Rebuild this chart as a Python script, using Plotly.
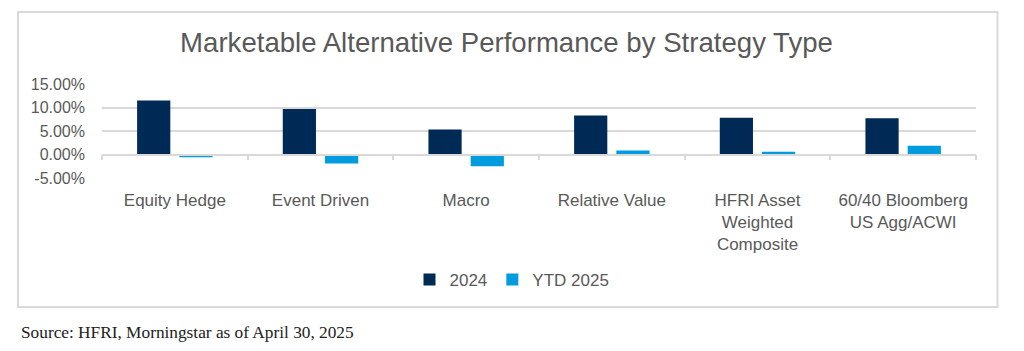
import plotly.graph_objects as go

categories = ["Equity Hedge", "Event Driven", "Macro", "Relative Value",
              "HFRI Asset<br>Weighted<br>Composite", "60/40 Bloomberg<br>US Agg/ACWI"]
series_names = ["2024", "YTD 2025"]
values_2024 = [11.5, 9.7, 5.3, 8.3, 7.8, 7.7]
values_ytd2025 = [-0.6, -1.9, -2.5, 0.85, 0.6, 1.85]
y_tick_vals = [-5, 0, 5, 10, 15]
y_tick_text = ["-5.00%", "0.00%", "5.00%", "10.00%", "15.00%"]

W, H = 1024, 351
L, R, T, B = 102, 48, 84, 173
pw, ph = W - L - R, H - T - B

def px_x(x):
    return (x - L) / pw

def px_y(y):
    return (H - B - y) / ph

NAVY = "#002A56"
BLUE = "#009CDE"
GRAY_TXT = "#595959"
GRID = "#D9D9D9"
FONT = "Liberation Sans, Arial, sans-serif"

fig = go.Figure()
fig.add_trace(go.Bar(x=categories, y=values_2024, name=series_names[0],
                     marker=dict(color=NAVY, line=dict(width=0))))
fig.add_trace(go.Bar(x=categories, y=values_ytd2025, name=series_names[1],
                     marker=dict(color=BLUE, line=dict(width=0))))
fig.add_trace(go.Scatter(x=categories, y=[None] * len(categories), xaxis="x2",
                         showlegend=False, hoverinfo="skip", mode="lines"))

fig.update_layout(
    width=W, height=H,
    margin=dict(l=L, r=R, t=T, b=B, pad=0),
    paper_bgcolor="white", plot_bgcolor="white",
    font=dict(family=FONT, color=GRAY_TXT, size=16),
    barmode="group", bargap=0.42, bargroupgap=0.214,
    title=dict(text="Marketable Alternative Performance by Strategy Type",
               font=dict(size=27.6, color=GRAY_TXT, family=FONT),
               x=506.5 / W, xanchor="center", xref="container",
               y=1 - 42.5 / H, yanchor="middle", yref="container"),
    xaxis=dict(type="category", categoryorder="array", categoryarray=categories,
               range=[-0.5, len(categories) - 0.5],
               showline=False, showgrid=False, zeroline=False, ticks="",
               tickfont=dict(size=17, color=GRAY_TXT), ticklabelstandoff=10),
    xaxis2=dict(type="category", categoryorder="array", categoryarray=categories,
                range=[-0.5, len(categories) - 0.5], overlaying="x",
                anchor="free", position=0.25, side="bottom",
                showline=True, linecolor=GRID, linewidth=1.5,
                showgrid=False, zeroline=False,
                ticks="outside", tickson="boundaries", ticklen=5,
                tickcolor=GRID, tickwidth=1.5, showticklabels=False),
    yaxis=dict(range=[-5, 15], tickvals=y_tick_vals, ticktext=y_tick_text,
               showgrid=True, gridcolor=GRID, gridwidth=1.5, zeroline=False,
               showline=False, ticks="", ticklabelstandoff=16,
               tickfont=dict(size=16, color=GRAY_TXT)),
    legend=dict(orientation="h", x=px_x(512), xanchor="center",
                y=px_y(280), yanchor="middle",
                font=dict(size=17, color=GRAY_TXT), bgcolor="rgba(0,0,0,0)",
                itemwidth=30, traceorder="normal"),
    showlegend=True,
)

fig.add_shape(type="rect", xref="paper", yref="paper",
              x0=px_x(18), x1=px_x(997.5), y0=px_y(307), y1=px_y(12),
              line=dict(color=GRID, width=2), fillcolor="rgba(0,0,0,0)", layer="below")

fig.add_annotation(text="Source: HFRI, Morningstar as of April 30, 2025",
                   xref="paper", yref="paper", x=px_x(19), y=px_y(332),
                   xanchor="left", yanchor="middle", showarrow=False,
                   font=dict(family="Liberation Serif, Georgia, serif", size=17.3, color="#222222"))

fig.write_html("out.html")
